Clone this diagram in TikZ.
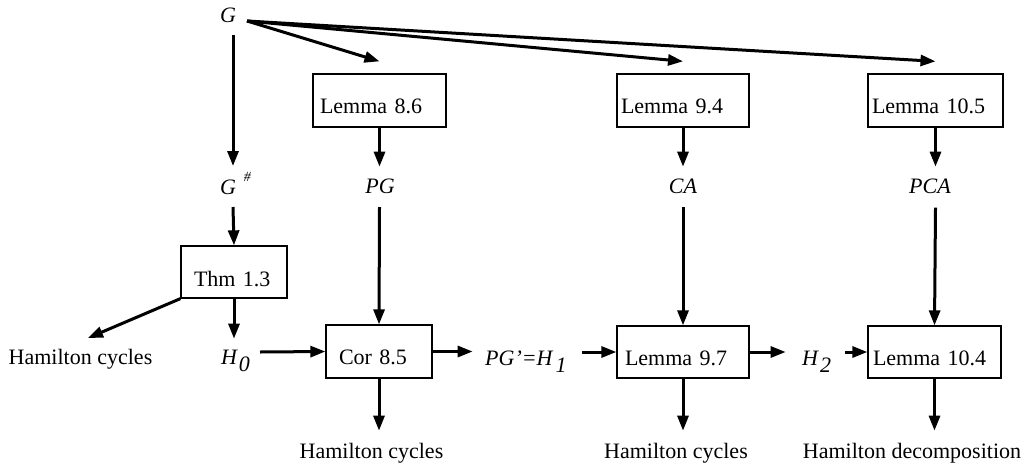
\documentclass[tikz,border=0pt]{standalone}
\usepackage{fontspec}
\setmainfont{Liberation Serif}
\usetikzlibrary{arrows.meta,calc}
\newcommand\fsz{\fontsize{22}{26}\selectfont}
\tikzset{
  arr/.style={line width=3pt,-{Triangle[length=15pt,width=11pt]}},
  box/.style={draw,line width=1.3pt,rectangle,inner ysep=0pt,align=left,font=\fsz},
  lbl/.style={inner sep=0pt,anchor=base,font=\fsz},
  ilbl/.style={inner sep=0pt,anchor=base,font=\fsz\itshape},
}
\begin{document}
\begin{tikzpicture}[x=1pt,y=-1pt]
\useasboundingbox (0,0) rectangle (1024,466);
% boxes
\node[box,inner xsep=7pt,text width=119pt,text height=39pt,text depth=14pt] (L86) at (379.5,100.5) {Lemma 8.6};
\node[box,inner xsep=4pt,text width=124pt,text height=39pt,text depth=14pt] (L94) at (683,100.5) {Lemma 9.4};
\node[box,inner xsep=4pt,text width=127pt,text height=39pt,text depth=14pt] (L105) at (935.5,100.5) {Lemma 10.5};
\node[box,inner xsep=13pt,text width=80pt,text height=40pt,text depth=12pt] (Thm) at (234,272) {Thm 1.3};
\node[box,inner xsep=13pt,text width=80pt,text height=39pt,text depth=14pt] (Cor) at (379,351.5) {Cor 8.5};
\node[box,inner xsep=8pt,text width=116pt,text height=39pt,text depth=13pt] (L97) at (683,352) {Lemma 9.7};
\node[box,inner xsep=5pt,text width=123pt,text height=39pt,text depth=13pt] (L104) at (934.5,352) {Lemma 10.4};
% text nodes
\node[ilbl] (G) at (228,22) {G};
\node[ilbl] (Gs) at (228,194) {G\rlap{\hspace{8pt}\raisebox{12.5pt}{\fontsize{14}{14}\selectfont\#}}};
\node[ilbl] (PG) at (380,193) {PG};
\node[ilbl] (CA) at (683,193) {CA};
\node[ilbl] (PCA) at (930,193) {PCA};
\node[ilbl] (H0) at (229,364) {H\rlap{\hspace{2pt}\raisebox{-7pt}{0}}};
\node[ilbl,anchor=base west] (H1) at (485,365) {PG’=H\hspace{3pt}\raisebox{-7pt}{1}};
\node[ilbl,anchor=base west] (H2) at (802,365) {H\hspace{2pt}\raisebox{-7pt}{2}};
\node[lbl] (HC0) at (80.5,364) {Hamilton cycles};
\node[lbl] (HC1) at (371.5,458) {Hamilton cycles};
\node[lbl] (HC2) at (676,458) {Hamilton cycles};
\node[lbl] (HD) at (912,458) {Hamilton decomposition};
% connectors from G
\coordinate (Gr) at ($(G.base)+(19,-1)$);
\draw[arr] (Gr) -- ($(L86.north)+(0,-12)$);
\draw[arr] (Gr) -- ($(L94.north)+(0,-12)$);
\draw[arr] (Gr) -- ($(L105.north)+(0,-12)$);
\draw[arr] ($(G.base)+(5,13)$) -- ($(Gs.base)+(5,-28)$);
\draw[arr] ($(Gs.base)+(5,13)$) -- (Thm.north);
\draw[arr] (Thm.south) -- ($(Thm.south)+(0,40)$);
\draw[arr] (Thm.south west) -- ($(HC0.base)+(7.5,-26)$);
\draw[arr] ($(H0.base)+(31,-12)$) -- (Cor.west);
% column PG
\draw[arr] (L86.south) -- ($(L86.south)+(0,39)$);
\draw[arr] ($(PG.base)+(-0.5,14)$) -- (Cor.north);
\draw[arr] (Cor.south) -- ($(Cor.south)+(0,52)$);
\draw[arr] (Cor.east) -- ($(Cor.east)+(40,0)$);
% column CA
\draw[arr] (L94.south) -- ($(L94.south)+(0,39)$);
\draw[arr] ($(CA.base)+(0,14)$) -- (L97.north);
\draw[arr] (L97.south) -- ($(L97.south)+(0,52)$);
\draw[arr] ($(H1.base east)+(15,-13)$) -- (L97.west);
\draw[arr] (L97.east) -- ($(L97.east)+(36,0)$);
% column PCA
\draw[arr] (L105.south) -- ($(L105.south)+(0,39)$);
\draw[arr] ($(L105.south)+(0,80)$) -- (L104.north);
\draw[arr] (L104.south) -- ($(L104.south)+(0,52)$);
\draw[arr] ($(H2.base east)+(14,-13)$) -- (L104.west);
\end{tikzpicture}
\end{document}
